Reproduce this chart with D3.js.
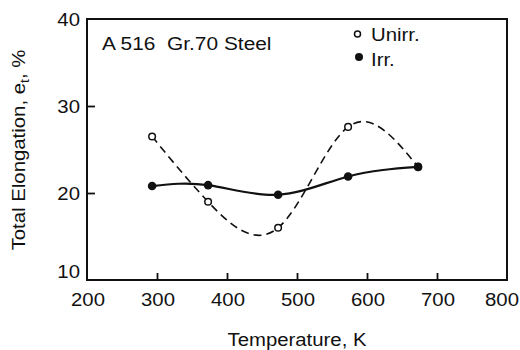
<!DOCTYPE html>
<html lang="en">
<head>
<meta charset="UTF-8">
<title>Total elongation vs temperature</title>
<style>
    body {margin: 0; background: white;}
    text {font-family: "Liberation Sans", Arial, sans-serif; font-size: 18.5px; fill: #111;}
</style>
<script src="https://cdn.jsdelivr.net/npm/d3@7"></script>
</head>
<body>
<script>
    const width = 520;
    const height = 350;

    // data
    const temperature = [293, 373, 473, 573, 673];
    const unirr = [26.5, 19.0, 16.0, 27.6, 23.0];
    const irr = [20.8, 20.9, 19.8, 21.9, 23.0];
    const xTicks = [200, 300, 400, 500, 600, 700, 800];
    const yTicks = [10, 20, 30, 40];

    const stretch = 1.1; // the scanned lettering is wider than Arial

    const svg = d3.select("body").append("svg")
        .attr("width", width).attr("height", height);

    const x = d3.scaleLinear().domain([200, 800]).range([87, 507]);
    const y = d3.scaleLinear().domain([10, 40]).range([280, 19]);

    function label(sel, px, py, str, anchor, rot, sx) {
        return sel.append("text")
            .attr("transform", `translate(${px},${py})` + (rot ? ` rotate(${rot})` : "") + ` scale(${sx || stretch},1)`)
            .style("text-anchor", anchor || "start")
            .text(str);
    }

    // frame
    svg.append("rect")
        .attr("x", x(200)).attr("y", y(40))
        .attr("width", x(800) - x(200)).attr("height", y(10) - y(40))
        .style("fill", "none").style("stroke", "#111").style("stroke-width", 2);

    // inward ticks
    svg.append("g")
        .attr("transform", `translate(0,${y(10)})`)
        .call(d3.axisTop(x).tickValues(xTicks.slice(1, -1)).tickSize(7).tickFormat(""))
        .call(g => g.select(".domain").remove())
        .selectAll("line").style("stroke", "#111").style("stroke-width", 1.8);

    svg.append("g")
        .attr("transform", `translate(${x(200)},0)`)
        .call(d3.axisRight(y).tickValues(yTicks.slice(1, -1)).tickSize(8).tickFormat(""))
        .call(g => g.select(".domain").remove())
        .selectAll("line").style("stroke", "#111").style("stroke-width", 1.8);

    // tick labels
    xTicks.forEach(t => label(svg, t == 800 ? x(t) - 5 : x(t) + 1, 306, t, "middle"));
    yTicks.forEach(t => label(svg, 80, y(t) + (t == 10 ? -2 : 6.5), t, "end"));

    // axis titles
    label(svg, 297, 346, "Temperature, K", "middle");
    const yl = label(svg, 25, 150, "", "middle", -90, 1.1);
    yl.append("tspan").text("Total Elongation, e");
    yl.append("tspan").attr("dy", 4).style("font-size", "13px").text("t");
    yl.append("tspan").attr("dy", -4).text(", %");

    // curves
    const curve = d3.line().x((d, i) => x(temperature[i])).y(d => y(d)).curve(d3.curveNatural);
    svg.append("path")
        .datum(unirr)
        .attr("d", curve)
        .style("fill", "none").style("stroke", "#111")
        .style("stroke-width", 1.6).style("stroke-dasharray", "8,5");

    svg.append("path")
        .datum(irr)
        .attr("d", curve)
        .style("fill", "none").style("stroke", "#111").style("stroke-width", 2.2);

    svg.selectAll("circle.unirr")
        .data(unirr)
        .join("circle")
        .attr("class", "unirr")
        .attr("cx", (d, i) => x(temperature[i])).attr("cy", d => y(d))
        .attr("r", 3.3)
        .style("fill", "white").style("stroke", "#111").style("stroke-width", 1.5);

    svg.selectAll("circle.irr")
        .data(irr)
        .join("circle")
        .attr("class", "irr")
        .attr("cx", (d, i) => x(temperature[i])).attr("cy", d => y(d))
        .attr("r", 4.3)
        .style("fill", "#111");

    // title and legend
    label(svg, 102, 50, "A 516  Gr.70 Steel", "start", 0, 1.13).style("white-space", "pre");

    svg.append("circle").attr("cx", 357.5).attr("cy", 34).attr("r", 3)
        .style("fill", "white").style("stroke", "#111").style("stroke-width", 1.5);
    label(svg, 371, 41, "Unirr.");
    svg.append("circle").attr("cx", 359).attr("cy", 57).attr("r", 4)
        .style("fill", "#111");
    label(svg, 371, 66, "Irr.");
</script>
</body>
</html>
